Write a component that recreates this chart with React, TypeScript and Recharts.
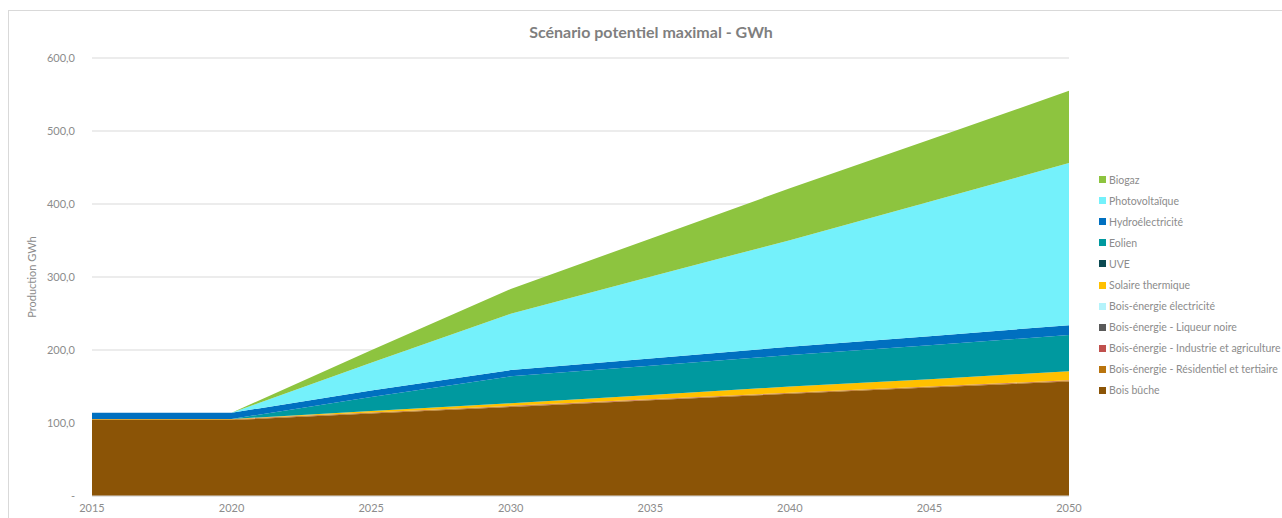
import React from 'react';
import { AreaChart, Area, XAxis, YAxis, CartesianGrid } from 'recharts';

const years = ['2015', '2020', '2025', '2030', '2035', '2040', '2045', '2050'];

const boisBuche = [104, 104, 113, 122, 131, 140, 148.5, 157];
const boisResidentiel = [1, 1, 1, 1, 1, 1, 1, 1];
const boisIndustrie = [0.3, 0.3, 0.5, 0.5, 0.5, 0.5, 0.5, 0.5];
const boisLiqueur = [0, 0, 0, 0, 0, 0, 0, 0];
const boisElectricite = [0, 0, 0, 0, 0, 0, 0, 0];
const solaireThermique = [0.3, 0.3, 2, 3.5, 6, 8.5, 10, 12.5];
const uve = [0, 0, 0, 0, 0, 0, 0, 0];
const eolien = [0, 0, 19, 37, 40, 43, 46.5, 49.5];
const hydro = [8.5, 8.5, 9, 8.5, 10, 11.5, 12.5, 13.5];
const photovoltaique = [0, 0, 38, 77, 112, 146, 184, 222];
const biogaz = [0, 0, 17, 34, 52, 71, 85, 99];

const yTicks = [0, 100, 200, 300, 400, 500, 600];

// bottom to top stacking order
const series = [
  { key: 'boisBuche', name: 'Bois bûche', values: boisBuche, color: '#8B5406' },
  { key: 'boisResidentiel', name: 'Bois-énergie - Résidentiel et tertiaire', values: boisResidentiel, color: '#B9740E' },
  { key: 'boisIndustrie', name: 'Bois-énergie - Industrie et agriculture', values: boisIndustrie, color: '#C0504D' },
  { key: 'boisLiqueur', name: 'Bois-énergie - Liqueur noire', values: boisLiqueur, color: '#595959' },
  { key: 'boisElectricite', name: 'Bois-énergie électricité', values: boisElectricite, color: '#B4F3FB' },
  { key: 'solaireThermique', name: 'Solaire thermique', values: solaireThermique, color: '#FFC000' },
  { key: 'uve', name: 'UVE', values: uve, color: '#0B4A52' },
  { key: 'eolien', name: 'Eolien', values: eolien, color: '#00999F' },
  { key: 'hydro', name: 'Hydroélectricité', values: hydro, color: '#0070C0' },
  { key: 'photovoltaique', name: 'Photovoltaïque', values: photovoltaique, color: '#74F1FB' },
  { key: 'biogaz', name: 'Biogaz', values: biogaz, color: '#8DC43F' },
];

const data = years.map((year, i) => {
  const row: Record<string, string | number> = { year };
  series.forEach((s) => {
    row[s.key] = s.values[i];
  });
  return row;
});

const fontFamily = 'Lato, "Open Sans", sans-serif';
const gray = '#8C8C8C';

export default function App() {
  return (
    <div style={{ position: 'relative', width: 1282, height: 518, background: '#fff' }}>
      <style>{`body{margin:0;overflow:hidden}`}</style>
      <div
        style={{
          position: 'absolute',
          left: 8,
          top: 10,
          width: 1290,
          height: 520,
          border: '1px solid #D9D9D9',
          boxSizing: 'border-box',
        }}
      />
      <div
        style={{
          position: 'absolute',
          left: 0,
          width: 1302,
          top: 22,
          textAlign: 'center',
          fontFamily,
          fontWeight: 700,
          fontSize: 16,
          color: '#7F7F7F',
        }}
      >
        Scénario potentiel maximal - GWh
      </div>
      <AreaChart
        width={1282}
        height={518}
        data={data}
        margin={{ top: 58, right: 213, bottom: 0, left: 0 }}
        style={{ position: 'absolute', left: 0, top: 0 }}
      >
        <CartesianGrid vertical={false} stroke="#D9D9D9" />
        <XAxis
          dataKey="year"
          height={22}
          tickLine={false}
          axisLine={{ stroke: '#D9D9D9' }}
          tick={{ fill: gray, fontSize: 11, fontFamily }}
          interval={0}
        />
        <YAxis
          width={92}
          domain={[0, 600]}
          ticks={yTicks}
          tickLine={false}
          axisLine={false}
          tickSize={6}
          tickMargin={11}
          tick={{ fill: gray, fontSize: 11, fontFamily }}
          tickFormatter={(v: number) => (v === 0 ? '-' : v.toFixed(1).replace('.', ','))}
          label={{
            value: 'Production GWh',
            angle: -90,
            position: 'insideLeft',
            offset: 32,
            style: { fill: gray, fontSize: 11, fontFamily, textAnchor: 'middle' },
          }}
        />
        {series.map((s) => (
          <Area
            key={s.key}
            type="linear"
            dataKey={s.key}
            name={s.name}
            stackId="1"
            stroke="none"
            fill={s.color}
            fillOpacity={1}
            isAnimationActive={false}
          />
        ))}
      </AreaChart>
      <div
        style={{
          position: 'absolute',
          left: 1099,
          top: 169,
          width: 183,
          fontFamily,
          fontSize: 10.5,
          color: gray,
        }}
      >
        {[...series].reverse().map((s) => (
          <div key={s.key} style={{ display: 'flex', alignItems: 'center', height: 21.1, whiteSpace: 'nowrap' }}>
            <span style={{ display: 'inline-block', width: 7, height: 7, background: s.color, marginRight: 3 }} />
            <span>{s.name}</span>
          </div>
        ))}
      </div>
    </div>
  );
}
